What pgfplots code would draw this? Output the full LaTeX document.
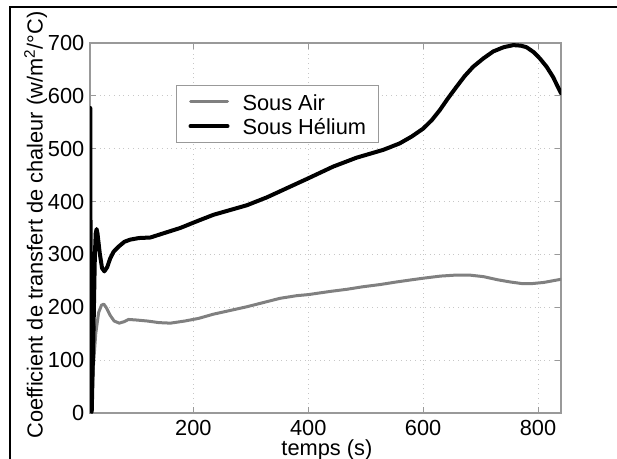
\documentclass[border=0pt]{standalone}
\usepackage{pgfplots}
\pgfplotsset{compat=1.18}
\usepackage{fontspec}
\setmainfont{Liberation Sans}
\definecolor{airgray}{RGB}{128,128,128}
\begin{document}
\begin{tikzpicture}
\fontsize{10.9bp}{13bp}\selectfont
\begin{axis}[
  at={(0,0)}, anchor=south west,
  scale only axis,
  width=235.5bp, height=185bp,
  xmin=20, xmax=840, ymin=0, ymax=700,
  xtick={200,400,600,800},
  ytick={0,100,...,700},
  /pgf/number format/assume math mode=true,
  ticklabel style={font=\fontsize{10.9bp}{13bp}\selectfont, black},
  yticklabel style={xshift=1bp},
  tick align=inside,
  major tick length=3bp,
  tick style={black!40, line width=0.5bp},
  axis line style={black!40, line width=0.6bp},
  grid=major,
  major grid style={black!22, dotted, line width=0.5bp},
  xlabel={temps (s)},
  ylabel={Coefficient de transfert de chaleur (w/m\textsuperscript{2}/°C)},
  label style={font=\fontsize{10.9bp}{13bp}\selectfont},
  xlabel style={at={(axis description cs:0.503,0)}, anchor=north, inner sep=0pt, yshift=-13.2bp},
  ylabel style={at={(axis description cs:-0.1004,0.508)}, anchor=base, inner sep=0pt, rotate=0},
  legend style={at={(axis description cs:0.1826,0.8865)}, anchor=north west,
    draw=black!40, line width=0.5bp, fill=white,
    font=\fontsize{10.9bp}{13bp}\selectfont,
    inner xsep=6bp, inner ysep=2bp, row sep=0pt, column sep=6.5bp,
    nodes={inner sep=0pt, text height=10.5bp, text depth=1.75bp}},
  legend cell align=left,
  legend image code/.code={\draw[#1] (0bp,0bp) -- (18.5bp,0bp);},
  every axis plot/.append style={line join=round, line cap=round},
]
\addplot[airgray, line width=1.5bp] coordinates {
(21,0) (23,20) (26,90) (30,150) (35,190) (40,204) (44,206) (48,200) (55,185)
(62,174) (71,170) (80,173) (87,177) (100,176) (120,174) (140,171) (160,170)
(185,174) (209,179) (235,187) (264,194) (293,201) (322,209) (351,217) (380,222)
(400,224) (438,230) (467,234) (496,239) (525,243) (554,248) (580,252) (600,255)
(630,259) (658,261) (680,261) (705,258) (730,252) (751,248) (771,245) (791,245)
(810,247) (825,250) (840,253)
};
\addlegendentry{Sous Air}
\addplot[black, line width=2bp] coordinates {
(20.5,577) (21.5,5) (23,2) (26,150) (28.5,300) (30,340) (31.5,348) (33,340) (37,302) (41,274)
(45,268) (50,276) (55,292) (61,305) (70,315) (80,324) (90,328) (105,331)
(125,332) (148,340) (177,350) (209,364) (235,375) (264,384) (293,393) (328,408)
(368,428) (400,444) (443,466) (484,483) (531,498) (559,510) (580,523) (600,538)
(615,554) (629,573) (643,595) (658,617) (672,637) (687,655) (705,671) (722,684)
(740,692) (757,696) (770,695) (780,692) (792,683) (803,671) (815,655) (826,636)
(840,605)
};
\addlegendentry{Sous Hélium}
\end{axis}
\draw[black, line width=1bp] (-39.75bp,-30bp) -- (-39.75bp,202.75bp) -- (270bp,202.75bp);
\pgfresetboundingbox
\path[use as bounding box] (-45bp,-23bp) rectangle (263.5bp,206.5bp);
\end{tikzpicture}
\end{document}
